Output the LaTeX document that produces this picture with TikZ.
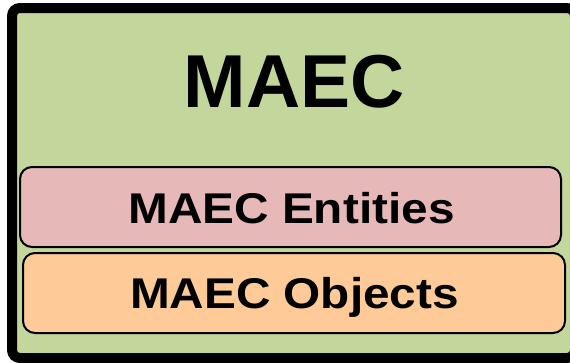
\documentclass[tikz,border=0pt]{standalone}
\usepackage{fontspec}
\usepackage{graphicx}
\setmainfont{Liberation Sans}
\definecolor{maecgreen}{HTML}{C3D69B}
\definecolor{maecpink}{HTML}{E6B9B8}
\definecolor{maecorange}{HTML}{FECB98}
\tikzset{
  layer/.style={draw=black, line width=2pt, rounded corners=12pt},
  lbl/.style={anchor=base, inner sep=0pt, font=\bfseries}
}
\begin{document}
\begin{tikzpicture}[x=1pt,y=-1pt]
\useasboundingbox (0,0) rectangle (570,362);
\draw[fill=maecgreen, draw=black, line width=10pt, rounded corners=8pt] (12,8) rectangle (575,358);
\draw[layer, fill=maecpink] (20,167) rectangle (561,247);
\draw[layer, fill=maecorange] (23,253) rectangle (565,333);
\node[lbl, font=\fontsize{75}{80}\selectfont\bfseries] (title) at (294,107) {MAEC};
\node[lbl, font=\fontsize{43}{48}\selectfont\bfseries] (ent) at (291.5,223) {\scalebox{1.11}[1]{MAEC Entities}};
\node[lbl, font=\fontsize{43}{48}\selectfont\bfseries] (obj) at (294.5,308) {\scalebox{1.11}[1]{MAEC Objects}};
\end{tikzpicture}
\end{document}
